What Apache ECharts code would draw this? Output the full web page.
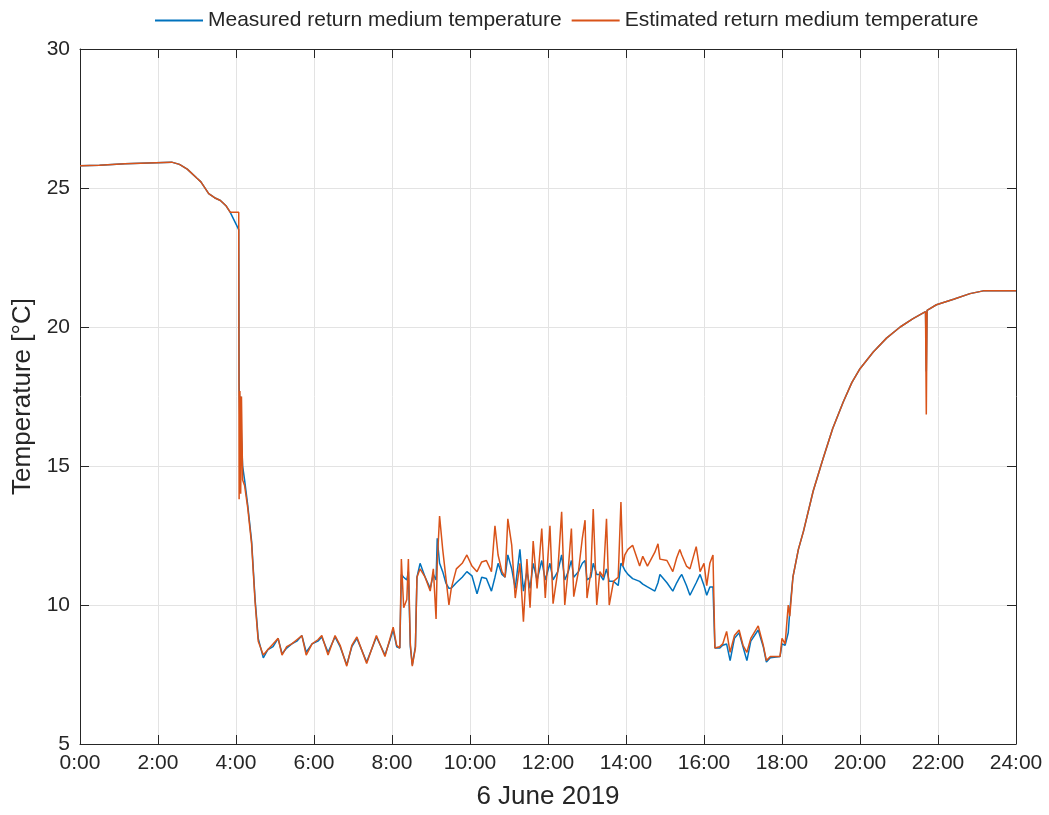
<!DOCTYPE html>
<html>
<head>
<meta charset="utf-8">
<script src="https://cdn.jsdelivr.net/npm/echarts@6/dist/echarts.min.js"></script>
<style>
  html, body { margin: 0; padding: 0; background: #fff; }
  #chart { width: 1049px; height: 815px; }
</style>
</head>
<body>
<div id="chart"></div>
<script>
// time of day in hours
var times = [
  0, 0.5, 0.55, 1.15, 1.2, 2.35, 2.55, 2.75, 3.0, 3.1, 3.3, 3.45, 3.6, 3.75, 3.85,
  4.07, 4.08, 4.10, 4.12, 4.14, 4.17, 4.22,
  4.3, 4.4, 4.49, 4.57, 4.7, 4.82, 4.95, 5.08, 5.18, 5.3, 5.43, 5.56, 5.69, 5.8, 5.95,
  6.1, 6.2, 6.36, 6.54, 6.67, 6.84, 6.97, 7.1, 7.35, 7.6, 7.82, 7.95, 8.03, 8.12, 8.2,
  8.24, 8.3, 8.38, 8.42, 8.47, 8.52, 8.6, 8.64, 8.72, 8.85, 8.98, 9.06, 9.13, 9.16, 9.22,
  9.3, 9.38, 9.46, 9.52, 9.65, 9.8, 9.92, 10.05,
  10.18, 10.3, 10.42, 10.55, 10.64, 10.72, 10.82, 10.9, 10.97, 11.07, 11.16, 11.28, 11.37,
  11.46, 11.54, 11.62, 11.72, 11.84, 11.93, 12.05,
  12.13, 12.25, 12.35, 12.43, 12.52, 12.6, 12.66, 12.78, 12.88, 12.95, 13.0, 13.1, 13.16,
  13.25, 13.33, 13.42, 13.5, 13.57, 13.68, 13.8, 13.87, 13.92, 13.97, 14.05,
  14.17, 14.35, 14.43, 14.55, 14.74, 14.82, 14.87, 15.05, 15.2, 15.3, 15.38, 15.43, 15.55,
  15.64, 15.8, 15.9, 16.0, 16.07, 16.15, 16.23,
  16.28, 16.4, 16.48, 16.58, 16.67, 16.78, 16.9, 17.0, 17.1, 17.2, 17.39, 17.52, 17.6, 17.7,
  17.95, 18.0, 18.08, 18.16, 18.2, 18.28, 18.42, 18.55,
  18.8, 19.05, 19.3, 19.57, 19.79, 20.0, 20.34, 20.68, 21.03, 21.36, 21.68, 21.7, 21.72,
  21.96, 22.4, 22.82, 23.16, 24.0
];

var measured = [
  25.8, 25.82, 25.85, 25.87, 25.93, 25.93, 25.85, 25.68, 25.35, 25.22, 24.8, 24.65, 24.55, 24.35, 24.13,
  23.5, 18.0, 16.5, 17.5, 16.0, 15.0, 14.5,
  13.6, 12.3, 10.2, 8.8, 8.1, 8.4, 8.5, 8.8, 8.25, 8.45, 8.6, 8.7, 8.9, 8.3, 8.6,
  8.7, 8.85, 8.3, 8.85, 8.5, 7.85, 8.5, 8.8, 7.95, 8.85, 8.2, 8.75, 9.1, 8.5, 8.45,
  11.1, 11.0, 10.9, 11.2, 8.5, 7.85, 8.5, 11.0, 11.5, 11.0, 10.6, 11.1, 10.9, 12.4, 11.5,
  11.2, 10.8, 10.6, 10.6, 10.8, 11.0, 11.2, 11.05,
  10.4, 11.0, 10.95, 10.5, 11.0, 11.5, 11.1, 11.0, 11.8, 11.3, 10.6, 12.0, 10.5,
  11.2, 10.6, 11.5, 10.9, 11.6, 10.9, 11.5,
  10.9, 11.2, 11.8, 10.9, 11.2, 11.6, 11.0, 11.2, 11.5, 11.6, 10.9, 11.0, 11.5,
  11.1, 11.1, 10.9, 11.3, 10.85, 10.85, 10.7, 11.5, 11.4, 11.25, 11.1,
  10.95, 10.85, 10.75, 10.65, 10.5, 10.8, 11.1, 10.8, 10.5, 10.8, 11.0, 11.1, 10.7,
  10.35, 10.8, 11.1, 10.7, 10.35, 10.65, 10.65,
  8.45, 8.45, 8.55, 8.6, 8.0, 8.8, 9.0, 8.5, 8.0, 8.7, 9.1, 8.5, 7.95, 8.1,
  8.15, 8.6, 8.55, 9.0, 9.8, 11.0, 12.0, 12.65,
  14.1, 15.25, 16.35, 17.3, 18.0, 18.5, 19.1, 19.6, 20.0, 20.3, 20.55, 18.4, 20.6,
  20.8, 21.0, 21.2, 21.3, 21.3
];

var estimated = [
  25.8, 25.82, 25.85, 25.87, 25.93, 25.93, 25.85, 25.68, 25.35, 25.22, 24.8, 24.65, 24.55, 24.35, 24.13,
  24.13, 13.8, 17.7, 14.0, 17.5, 14.5, 14.3,
  13.5, 12.2, 10.1, 8.7, 8.2, 8.4, 8.6, 8.8, 8.2, 8.5, 8.6, 8.75, 8.9, 8.2, 8.6,
  8.75, 8.9, 8.2, 8.9, 8.55, 7.8, 8.55, 8.85, 7.9, 8.9, 8.15, 8.8, 9.2, 8.55, 8.45,
  11.65, 9.9, 10.2, 11.65, 8.6, 7.8, 8.45, 11.0, 11.3, 11.0, 10.5, 11.3, 9.5, 11.5, 13.2,
  12.0, 11.0, 10.0, 10.6, 11.3, 11.5, 11.8, 11.4,
  11.2, 11.55, 11.6, 11.2, 12.85, 11.8, 11.2, 11.0, 13.1, 12.15, 10.25, 11.5, 9.4,
  11.65, 9.9, 12.3, 10.6, 12.75, 10.25, 12.85,
  10.05, 11.2, 13.35, 10.0, 11.3, 12.75, 10.3, 11.2, 12.4, 13.05, 10.25, 11.2, 13.45,
  10.0, 11.2, 11.0, 13.1, 10.0, 10.85, 11.0, 13.7, 11.4, 11.8, 12.0,
  12.15, 11.4, 11.75, 11.4, 11.9, 12.2, 11.65, 11.6, 11.2, 11.7, 12.0, 11.8, 11.4,
  11.3, 12.1, 11.2, 11.5, 10.7, 11.5, 11.8,
  8.45, 8.5, 8.6, 9.05, 8.3, 8.9, 9.1, 8.55, 8.3, 8.8, 9.25, 8.55, 8.0, 8.15,
  8.15, 8.8, 8.6, 10.0, 9.6, 11.0, 12.0, 12.65,
  14.1, 15.25, 16.35, 17.3, 18.0, 18.5, 19.1, 19.6, 20.0, 20.3, 20.55, 16.85, 20.6,
  20.8, 21.0, 21.2, 21.3, 21.3
];

var seriesNames = ['Measured return medium temperature', 'Estimated return medium temperature'];

function pairs(vals) {
  return times.map(function (t, i) { return [t, vals[i]]; });
}

var axisColor = '#262626';
var chart = echarts.init(document.getElementById('chart'));
var option = {
  animation: false,
  backgroundColor: '#fff',
  textStyle: { fontFamily: 'Liberation Sans' },
  legend: {
    top: 5,
    left: 150,
    icon: 'rect',
    itemWidth: 48,
    itemHeight: 2,
    itemGap: 10,
    textStyle: { fontSize: 21, color: axisColor, fontFamily: 'Liberation Sans' },
    data: seriesNames
  },
  grid: { left: 80, right: 33, top: 49, bottom: 69 },
  xAxis: [
    {
      type: 'value',
      min: 0, max: 24, interval: 2,
      name: '6 June 2019',
      nameLocation: 'middle',
      nameGap: 40,
      nameTextStyle: { fontSize: 26, color: axisColor },
      axisLine: { show: true, lineStyle: { color: axisColor, width: 1 } },
      axisTick: { show: true, inside: true, length: 9, lineStyle: { color: axisColor } },
      axisLabel: {
        fontSize: 21, color: axisColor, margin: 9,
        formatter: function (v) { return v + ':00'; }
      },
      splitLine: { show: true, lineStyle: { color: '#e3e3e3', width: 1 } }
    },
    {
      type: 'value', position: 'top',
      min: 0, max: 24, interval: 2,
      axisLine: { show: true, onZero: false, lineStyle: { color: axisColor, width: 1 } },
      axisTick: { show: true, inside: true, length: 9, lineStyle: { color: axisColor } },
      axisLabel: { show: false },
      splitLine: { show: false }
    }
  ],
  yAxis: [
    {
      type: 'value',
      min: 5, max: 30, interval: 5,
      name: 'Temperature [°C]',
      nameLocation: 'middle',
      nameGap: 38,
      nameTextStyle: { fontSize: 26, color: axisColor },
      axisLine: { show: true, lineStyle: { color: axisColor, width: 1 } },
      axisTick: { show: true, inside: true, length: 9, lineStyle: { color: axisColor } },
      axisLabel: { fontSize: 21, color: axisColor, margin: 10 },
      splitLine: { show: true, lineStyle: { color: '#e3e3e3', width: 1 } }
    },
    {
      type: 'value', position: 'right',
      min: 5, max: 30, interval: 5,
      axisLine: { show: true, onZero: false, lineStyle: { color: axisColor, width: 1 } },
      axisTick: { show: true, inside: true, length: 9, lineStyle: { color: axisColor } },
      axisLabel: { show: false },
      splitLine: { show: false }
    }
  ],
  series: [
    {
      name: seriesNames[0],
      type: 'line',
      xAxisIndex: 0, yAxisIndex: 0,
      showSymbol: false,
      color: '#0072BD',
      lineStyle: { width: 1.5 },
      data: pairs(measured)
    },
    {
      name: seriesNames[1],
      type: 'line',
      xAxisIndex: 0, yAxisIndex: 0,
      showSymbol: false,
      color: '#D95319',
      lineStyle: { width: 1.5 },
      data: pairs(estimated)
    }
  ]
};
chart.setOption(option);
</script>
</body>
</html>
